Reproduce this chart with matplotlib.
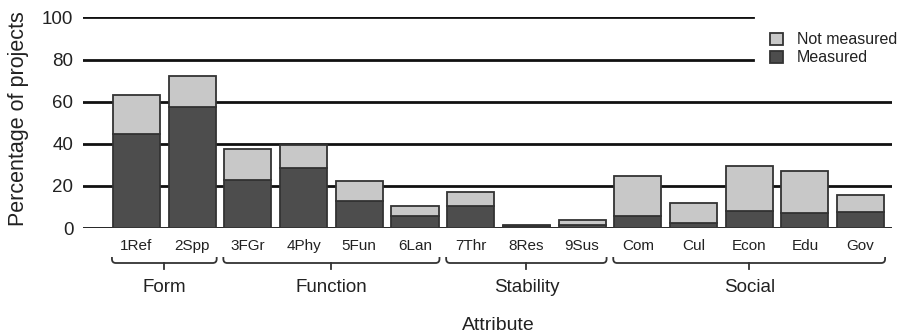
import numpy as np
import matplotlib.pyplot as plt
from matplotlib.path import Path
from matplotlib.patches import PathPatch
from matplotlib.transforms import blended_transform_factory

plt.rcParams['font.family'] = ['Liberation Sans', 'DejaVu Sans']
plt.rcParams['text.color'] = '#222222'
plt.rcParams['xtick.color'] = '#222222'
plt.rcParams['ytick.color'] = '#222222'

# Data
attributes = ["1Ref", "2Spp", "3FGr", "4Phy", "5Fun", "6Lan", "7Thr", "8Res", "9Sus",
              "Com", "Cul", "Econ", "Edu", "Gov"]
measured = [44.5, 57.3, 22.8, 28.4, 12.8, 5.7, 10.6, 1.0, 1.4, 5.7, 2.2, 8.2, 7.0, 7.7]
total    = [63.0, 72.4, 37.4, 39.5, 22.5, 10.5, 17.3, 1.4, 3.8, 24.9, 12.0, 29.6, 27.2, 15.7]
not_measured = [t - m for t, m in zip(total, measured)]
groups = ["Form", "Function", "Stability", "Social"]
group_spans = [(0, 1), (2, 5), (6, 8), (9, 13)]

dark, light, edge = "#4d4d4d", "#c8c8c8", "#333333"

fig = plt.figure(figsize=(9.06, 3.36), dpi=100)
ax = fig.add_axes([0.0916, 0.3214, 0.893, 0.6266])

x = np.arange(len(attributes))
ax.bar(x, measured, width=0.845, color=dark, edgecolor=edge, linewidth=1.3, zorder=3,
       label="Measured")
ax.bar(x, not_measured, bottom=measured, width=0.845, color=light, edgecolor=edge,
       linewidth=1.3, zorder=3, label="Not measured")

# horizontal grid lines (top two stop short of legend)
for y in [0, 20, 40, 60]:
    ax.axhline(y, color="#111111", lw=2.0, zorder=1)
for y in [80, 100]:
    ax.axhline(y, xmax=0.828, color="#111111", lw=2.0, zorder=1)

ax.set_xlim(-0.96, 13.565)
ax.set_ylim(0, 100)
ax.set_yticks([0, 20, 40, 60, 80, 100])
ax.tick_params(axis="y", length=0, labelsize=13.5, pad=7)
ax.set_xticks(x)
ax.set_xticklabels(attributes)
ax.tick_params(axis="x", length=0, labelsize=11, pad=8)
for s in ax.spines.values():
    s.set_visible(False)
fig.text(19 / 906, 1 - 119 / 336, "Percentage of projects", rotation=90,
         ha="center", va="center", fontsize=15.5)

# braces under groups
tr = blended_transform_factory(ax.transData, fig.transFigure)
y_top, y_mid, y_tip = 1 - 257 / 336, 1 - 263 / 336, 1 - 269 / 336
rx, ry = 0.07, 4 / 336
for name, (a, b) in zip(groups, group_spans):
    x0, x1 = a - 0.44, b + 0.44
    xc = (a + b) / 2
    verts = [(x0, y_top), (x0, y_mid + ry), (x0, y_mid), (x0 + rx, y_mid),
             (x1 - rx, y_mid), (x1, y_mid), (x1, y_mid + ry), (x1, y_top)]
    codes = [Path.MOVETO, Path.LINETO, Path.CURVE3, Path.CURVE3,
             Path.LINETO, Path.CURVE3, Path.CURVE3, Path.LINETO]
    ax.add_patch(PathPatch(Path(verts, codes), transform=tr, fill=False,
                           edgecolor="#333333", lw=1.3, clip_on=False))
    ax.plot([xc, xc], [y_mid, y_tip], color="#333333", lw=1.3, transform=tr, clip_on=False)
    ax.text(xc, 1 - 288 / 336, name, transform=tr, ha="center", va="center", fontsize=13.5)

ax.text(6.5, 1 - 326 / 336, "Attribute", transform=tr, ha="center", va="center",
        fontsize=14)

h, l = ax.get_legend_handles_labels()
ax.legend(h[::-1], l[::-1], loc="upper left", bbox_to_anchor=(0.841, 0.96), frameon=False,
          fontsize=11.5, handlelength=0.8, handleheight=0.8, handletextpad=0.9,
          labelspacing=0.2, borderaxespad=0)

fig.savefig("out.png", dpi=100)
